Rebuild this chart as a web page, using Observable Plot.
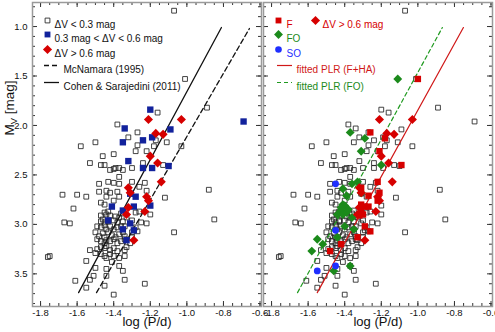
<!DOCTYPE html>
<html><head><meta charset="utf-8">
<script src="https://cdn.jsdelivr.net/npm/d3@7"></script>
<script src="https://cdn.jsdelivr.net/npm/@observablehq/plot@0.6"></script>
<style>
html,body{margin:0;padding:0;background:#fff;}
#wrap{position:relative;width:495px;height:332px;overflow:hidden;background:#fff;}
#wrap svg{position:absolute;top:0;}
</style></head><body><div id="wrap"></div>
<script>
// ---------- data (log P/d, M_V) ----------
const openLogP = [
-1.07,-1.01,-0.89,-1.16,-1.38,-1.32,-1.27,-1.27,-1.28,-1.58,
-1.50,-1.46,-1.40,-1.22,-1.18,-1.17,-1.11,-1.03,-1.24,-1.30,
-1.53,-1.47,-1.45,-1.39,-1.37,-1.42,-1.40,-1.35,-1.13,-1.37,
-1.48,-1.43,-1.40,-1.37,-1.30,-1.23,-1.48,-1.68,-1.55,-1.60,
-1.44,-1.42,-1.38,-1.37,-1.44,-1.40,-1.45,-1.47,-1.26,-1.22,
-1.12,-0.88,-1.62,-1.67,-1.64,-1.20,-0.85,-1.07,-1.22,-1.76,
-1.75,
-1.47,-1.45,-1.44,-1.42,-1.39,-1.36,-1.28,-1.26,-1.43,
-1.47,-1.46,-1.45,-1.43,-1.40,-1.38,-1.37,-1.35,-1.33,-1.30,-1.25,
-1.49,-1.47,-1.45,-1.44,-1.42,-1.40,-1.38,-1.36,-1.34,-1.30,-1.28,-1.27,
-1.50,-1.48,-1.46,-1.45,-1.43,-1.41,-1.39,-1.37,-1.35,-1.34,-1.30,
-1.49,-1.47,-1.45,-1.44,-1.42,-1.40,-1.38,-1.36,-1.34,-1.31,
-1.53,-1.49,-1.47,-1.45,-1.44,-1.42,-1.40,-1.38,-1.34,-1.33,
-1.50,-1.47,-1.45,-1.44,-1.42,-1.40,-1.37,-1.34,-1.41,
-1.55,-1.50,-1.44,-1.37,-1.35,-1.51,-1.53,-1.61,-1.34,-1.55,-1.45,-1.40,-1.23,-1.44
];
const openMv = [
0.84,1.53,1.82,1.87,1.99,2.12,2.07,2.20,2.26,2.21,
2.17,2.31,2.29,2.26,2.21,2.15,2.17,2.21,2.38,2.43,
2.38,2.40,2.40,2.43,2.43,2.45,2.44,2.45,2.40,2.52,
2.59,2.57,2.58,2.59,2.57,2.58,2.67,2.70,2.72,2.70,
2.66,2.68,2.67,2.72,2.72,2.76,2.80,2.78,2.62,2.66,
2.73,2.65,2.84,2.98,2.99,2.90,2.95,3.08,2.99,3.33,
3.32,
2.91,2.88,2.90,2.91,2.92,2.89,2.88,2.87,2.87,
2.97,2.95,2.98,2.97,2.96,2.98,2.93,2.97,2.93,2.96,2.98,
3.02,3.03,3.01,3.05,3.02,3.05,3.03,3.02,3.02,3.08,3.03,3.07,
3.08,3.12,3.09,3.13,3.08,3.11,3.13,3.10,3.08,3.12,3.13,
3.15,3.17,3.19,3.16,3.17,3.15,3.19,3.17,3.15,3.19,
3.26,3.25,3.23,3.24,3.22,3.26,3.24,3.27,3.26,3.23,
3.29,3.30,3.32,3.34,3.30,3.32,3.34,3.32,3.38,
3.37,3.44,3.45,3.42,3.47,3.52,3.56,3.57,3.56,3.64,3.62,3.71,3.60,3.52
];
// 0.3 < dV < 0.6 (blue squares, left panel)
const blueLogP = [-1.20,-1.34,-1.35,-1.24,-1.19,-1.09,-1.32,-1.10,-1.24,-1.19,-0.69,-1.28,-1.41,-1.35,-1.29,-1.20,-1.43,-1.31,-1.35,-1.29,-1.33,-1.31];
const blueMv   = [1.84,2.03,2.17,2.15,2.12,2.04,2.36,2.41,2.43,2.43,1.96,2.72,2.82,2.86,2.82,2.81,2.96,2.99,3.05,3.06,3.16,2.69];
// dV > 0.6 (red diamonds)
const redLogP = [-1.21,-1.17,-1.13,-1.03,-1.20,-1.16,-1.14,-1.32,-1.31,-1.22,-1.21,-1.32,-1.33,-1.23,-1.29];
const redMv   = [1.94,2.08,2.09,1.94,2.31,2.38,2.57,2.63,2.68,2.72,2.76,2.83,2.90,2.87,3.16];
// right panel: F (red squares)
const fLogP = [-1.00,-1.26,-1.18,-1.21,-1.09,-1.22,-1.31,-1.27,-1.21,-1.22,-1.31,-1.29,-1.31,-1.27,-1.30,-1.32,-1.29,-1.26,-1.33,-1.42,-1.48];
const fMv   = [1.53,2.07,2.13,2.26,2.40,2.57,2.63,2.71,2.68,2.76,2.80,2.82,2.86,2.82,2.90,2.91,3.02,3.07,3.13,3.20,3.27];
// FO (green diamonds)
const foLogP = [-1.11,-1.37,-1.29,-1.31,-1.20,-1.36,-1.33,-1.41,-1.31,-1.39,-1.41,-1.40,-1.42,-1.44,-1.41,-1.39,-1.36,-1.40,-1.35,-1.44,-1.55,-1.52,-1.58,-1.46,-1.37,-1.42,-1.38];
const foMv   = [1.53,2.07,2.13,2.26,2.40,2.59,2.57,2.64,2.68,2.71,2.80,2.81,2.86,2.90,2.90,2.88,2.93,3.02,3.05,3.13,3.15,3.20,3.27,3.47,3.42,2.83,2.85];
// SO (blue circles)
const soLogP = [-1.45,-1.45,-1.45,-1.55];
const soMv   = [2.59,3.06,3.42,3.47];
// relations (end points)
const mcnLogP = [-1.494,-0.658], mcnMv = [3.69,1.02];
const csLogP  = [-1.592,-0.811], csMv  = [3.69,1.01];
const fitFLogP  = [-1.550,-0.751], fitFMv  = [3.69,1.01];
const fitFOLogP = [-1.658,-0.866], fitFOMv = [3.69,1.01];
// ticks
const xMajor = [-1.8,-1.6,-1.4,-1.2,-1.0,-0.8,-0.6];
const yMajor = [1.0,1.5,2.0,2.5,3.0,3.5];
const xMinor = d3.range(-1.8,-0.59,0.05).map(v=>+v.toFixed(2));
const yMinor = d3.range(0.8,3.81,0.1).map(v=>+v.toFixed(1));

// ---------- helpers ----------
const pts = (xs, ys) => xs.map((x,i)=>({x, y: ys[i]}));
const FONT = "'Liberation Sans', Arial, Helvetica, sans-serif";
const H = 332, MT = 2, MB = 26, innerH = H - MT - MB, innerW = 229;
const xDomain = [-1.844,-0.592], yDomain = [0.757,3.83];
const C = {blue:"#12229c", red:"#d60000", green:"#1b8a1b", so:"#1f2fff", redLine:"#d01818", greenLine:"#1f9a1f"};
const hline = {draw(ctx){ ctx.moveTo(-7.5,0); ctx.lineTo(7.5,0); }};

function frameTicks(){
  const c = "#333";
  return [
    Plot.tickX(xMajor,{x:d=>d, insetTop: innerH-5, stroke:c}),
    Plot.tickX(xMajor,{x:d=>d, insetBottom: innerH-5, stroke:c}),
    Plot.tickX(xMinor,{x:d=>d, insetTop: innerH-3, stroke:c}),
    Plot.tickX(xMinor,{x:d=>d, insetBottom: innerH-3, stroke:c}),
    Plot.tickY(yMajor,{y:d=>d, insetRight: innerW-5, stroke:c}),
    Plot.tickY(yMajor,{y:d=>d, insetLeft: innerW-5, stroke:c}),
    Plot.tickY(yMinor,{y:d=>d, insetRight: innerW-3, stroke:c}),
    Plot.tickY(yMinor,{y:d=>d, insetLeft: innerW-3, stroke:c}),
    Plot.frame({stroke:"#9a9a9a", strokeWidth:1.5})
  ];
}
const lSym = (dx,dy,o) => Plot.dot([0],{frameAnchor:"top-left", dx, dy, ...o});
const lTxt = (s,dx,dy,fill="#111") => Plot.text([s],{text:d=>d, frameAnchor:"top-left", dx, dy, textAnchor:"start", fill, fontSize:10});
const xLabel = Plot.text(["log (P/d)"],{text:d=>d, frameAnchor:"bottom", dy:19, fontSize:13, fill:"#111"});
const rows = [18,32,47,63,80];

const openSq = (data) => Plot.dot(data,{x:"x", y:"y", symbol:"square", r:2.7, fill:"none", stroke:"#222", strokeWidth:0.85});

// ---------- left panel ----------
const left = Plot.plot({
  width: 261, height: H, marginLeft: 32, marginRight: 0, marginTop: MT, marginBottom: MB,
  style: {fontFamily: FONT, fontSize: "9.5px", overflow: "visible", background: "transparent", color: "#111"},
  x: {domain: xDomain, ticks: xMajor, tickFormat: d=>d.toFixed(1), tickSize: 0, tickPadding: 3, label: null},
  y: {domain: yDomain, reverse: true, ticks: yMajor, tickFormat: d=>d.toFixed(1), tickSize: 0, tickPadding: 5, label: null},
  marks: [
    openSq(pts(openLogP, openMv)),
    Plot.line(pts(mcnLogP, mcnMv),{x:"x", y:"y", stroke:"#111", strokeWidth:1.3, strokeDasharray:"5,3"}),
    Plot.line(pts(csLogP, csMv),{x:"x", y:"y", stroke:"#111", strokeWidth:1.3}),
    Plot.dot(pts(blueLogP, blueMv),{x:"x", y:"y", symbol:"square", r:3.6, fill:C.blue}),
    Plot.dot(pts(redLogP, redMv),{x:"x", y:"y", symbol:"diamond2", r:4.1, fill:C.red}),
    ...frameTicks(),
    lSym(15,rows[0],{symbol:"square", r:2.7, fill:"none", stroke:"#222", strokeWidth:0.85}),
    lTxt("ΔV < 0.3 mag",22,rows[0]),
    lSym(15,rows[1],{symbol:"square", r:3.3, fill:C.blue}),
    lTxt("0.3 mag < ΔV < 0.6 mag",22,rows[1]),
    lSym(15,rows[2],{symbol:"diamond2", r:4.1, fill:C.red}),
    lTxt("ΔV > 0.6 mag",22,rows[2]),
    lSym(19,rows[3],{symbol:hline, fill:"none", stroke:"#111", strokeWidth:1.3, strokeDasharray:"5,3"}),
    lTxt("McNamara (1995)",31,rows[3]),
    lSym(19,rows[4],{symbol:hline, fill:"none", stroke:"#111", strokeWidth:1.3}),
    lTxt("Cohen & Sarajedini (2011)",31,rows[4]),
    xLabel
  ]
});
left.style.left = "0px";

// ---------- right panel ----------
const right = Plot.plot({
  width: 232, height: H, marginLeft: 0, marginRight: 3, marginTop: MT, marginBottom: MB,
  style: {fontFamily: FONT, fontSize: "9.5px", overflow: "visible", background: "transparent", color: "#111"},
  x: {domain: xDomain, ticks: xMajor, tickFormat: d=>d.toFixed(1), tickSize: 0, tickPadding: 3, label: null},
  y: {domain: yDomain, reverse: true, axis: null},
  marks: [
    openSq(pts(openLogP.concat(blueLogP), openMv.concat(blueMv))),
    Plot.line(pts(fitFOLogP, fitFOMv),{x:"x", y:"y", stroke:C.greenLine, strokeWidth:1.2, strokeDasharray:"4,3"}),
    Plot.line(pts(fitFLogP, fitFMv),{x:"x", y:"y", stroke:C.redLine, strokeWidth:1.2}),
    Plot.dot(pts(foLogP, foMv),{x:"x", y:"y", symbol:"diamond2", r:4.0, fill:C.green}),
    Plot.dot(pts(fLogP, fMv),{x:"x", y:"y", symbol:"square", r:3.6, fill:C.red}),
    Plot.dot(pts(redLogP, redMv),{x:"x", y:"y", symbol:"diamond2", r:4.1, fill:C.red}),
    Plot.dot(pts(soLogP, soMv),{x:"x", y:"y", r:3.4, fill:C.so}),
    ...frameTicks(),
    lSym(15,rows[0],{symbol:"square", r:3.3, fill:C.red}),
    lTxt("F",23,rows[0],C.red),
    lSym(52,rows[0],{symbol:"diamond2", r:4.1, fill:C.red}),
    lTxt("ΔV > 0.6 mag",59,rows[0],C.red),
    lSym(15,rows[1],{symbol:"diamond2", r:4.0, fill:C.green}),
    lTxt("FO",23,rows[1],C.green),
    lSym(15,rows[2],{r:3.3, fill:C.so}),
    lTxt("SO",23,rows[2],C.so),
    lSym(21,rows[3],{symbol:hline, fill:"none", stroke:C.redLine, strokeWidth:1.2}),
    lTxt("fitted PLR (F+HA)",33,rows[3],C.redLine),
    lSym(21,rows[4],{symbol:hline, fill:"none", stroke:C.greenLine, strokeWidth:1.2, strokeDasharray:"4,3"}),
    lTxt("fitted PLR (FO)",33,rows[4],C.green),
    xLabel
  ]
});
right.style.left = "263px";

const wrap = document.getElementById("wrap");
wrap.appendChild(left);
wrap.appendChild(right);

// y-axis title with subscript
const t = d3.select(left).append("text")
  .attr("transform","translate(9,108) rotate(-90)")
  .attr("text-anchor","middle").attr("dy","0.35em")
  .attr("fill","#111").style("font-size","13.5px").style("font-family",FONT);
t.append("tspan").text("M");
t.append("tspan").attr("dy","3").style("font-size","9.5px").text("V");
t.append("tspan").attr("dy","-3").text(" [mag]");
</script>
</body></html>
